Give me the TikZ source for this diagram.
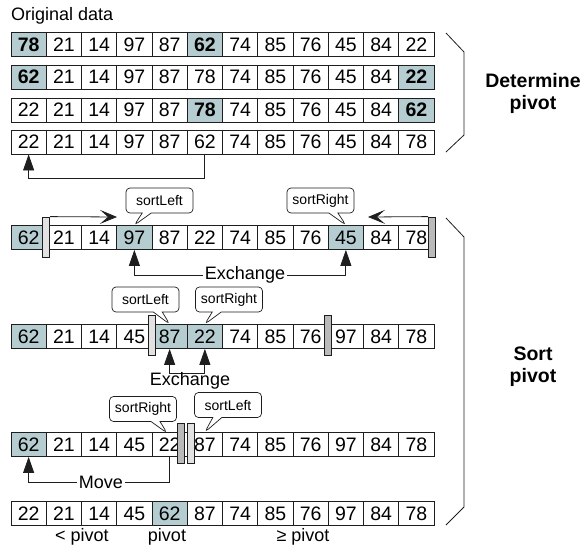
\documentclass[tikz,border=0pt]{standalone}
\usepackage{fontspec}
\setmainfont{Liberation Sans}
\usetikzlibrary{shapes.callouts,arrows.meta}
\definecolor{sh}{RGB}{181,205,208}
\definecolor{barL}{RGB}{226,226,226}
\definecolor{barD}{RGB}{186,186,186}
\definecolor{ln}{RGB}{30,30,30}
\newcommand\cellrow[3]{\foreach \v/\c [count=\i] in {#3} \node[cell,fill=\c] (#1c\i) at ({11+(\i-0.5)*35.25},#2) {\v};}
\begin{document}
\begin{tikzpicture}[x=1pt,y=-1pt,
  cell/.style={draw=ln,minimum width=35.25pt,minimum height=24pt,inner sep=0pt,line width=0.8pt,font=\fontsize{19.5}{20}\selectfont},
  bar/.style={draw=ln,minimum width=7pt,minimum height=40pt,inner sep=0pt,line width=0.8pt},
  callbox/.style={rectangle callout,draw=ln,fill=white,rounded corners=4pt,minimum width=67pt,minimum height=25pt,inner sep=0pt,line width=0.7pt,callout pointer width=9pt,font=\fontsize{14}{16}\selectfont},
  lbl/.style={inner sep=2pt,font=\fontsize{18}{20}\selectfont},
  big/.style={align=center,font=\fontsize{19.5}{22}\selectfont\bfseries},
  conn/.style={draw=ln,line width=0.8pt},
  tri/.style={-{Triangle[length=16pt,width=11pt]}},
  stl/.style={-{Stealth[length=17pt,width=14pt,inset=8pt]}}
]
\useasboundingbox (0,0) rectangle (587,547);
\node[lbl,anchor=west] (orig) at (9,16) {Original data};
\cellrow{r1}{44.5}{\textbf{78}/sh,21/white,14/white,97/white,87/white,\textbf{62}/sh,74/white,85/white,76/white,45/white,84/white,22/white}
\cellrow{r2}{77}{\textbf{62}/sh,21/white,14/white,97/white,87/white,78/white,74/white,85/white,76/white,45/white,84/white,\textbf{22}/sh}
\cellrow{r3}{110}{22/white,21/white,14/white,97/white,87/white,\textbf{78}/sh,74/white,85/white,76/white,45/white,84/white,\textbf{62}/sh}
\cellrow{r4}{142}{22/white,21/white,14/white,97/white,87/white,62/white,74/white,85/white,76/white,45/white,84/white,78/white}
\cellrow{r5}{237.5}{62/sh,21/white,14/white,97/sh,87/white,22/white,74/white,85/white,76/white,45/sh,84/white,78/white}
\cellrow{r6}{336.5}{62/sh,21/white,14/white,45/white,87/sh,22/sh,74/white,85/white,76/white,97/white,84/white,78/white}
\cellrow{r7}{444.5}{62/sh,21/white,14/white,45/white,22/white,87/white,74/white,85/white,76/white,97/white,84/white,78/white}
\cellrow{r8}{513.5}{22/white,21/white,14/white,45/white,62/sh,87/white,74/white,85/white,76/white,97/white,84/white,78/white}
% determine pivot brace
\draw[conn] (446,33) -- (464,52) -- (464,135) -- (446,152);
\node[big] (det) at (533,93) {Determine\\pivot};
\draw[conn,tri] (r4c6.south) -- ++(0,24) -| (r4c1.south);
% row 5
\node[bar,fill=barL] (b5l) at (46.25,237) {};
\node[bar,fill=barD] (b5r) at (432,237) {};
\coordinate (t5l) at (117,217);
\coordinate (t5r) at (368,217);
\draw[conn,stl] (b5l.north east) -- (t5l);
\draw[conn,stl] (b5r.north west) -- (t5r);
\node[callbox,callout absolute pointer={(r5c4.north)}] (sl5) at (159.5,200.5) {sortLeft};
\node[callbox,callout absolute pointer={(r5c10.north)}] (sr5) at (320.5,200.5) {sortRight};
\node[lbl] (ex5) at (245,275) {Exchange};
\draw[conn,tri] (ex5.west) -| (r5c4.south);
\draw[conn,tri] (ex5.east) -| (r5c10.south);
% row 6
\node[bar,fill=barL] (b6l) at (152,335.5) {};
\node[bar,fill=barD] (b6r) at (327.5,335.5) {};
\node[callbox,callout absolute pointer={(r6c5.north)}] (sl6) at (145.5,299.5) {sortLeft};
\node[callbox,callout absolute pointer={(r6c6.north)}] (sr6) at (229,299.5) {sortRight};
\draw[conn,{Triangle[length=16pt,width=11pt]}-{Triangle[length=16pt,width=11pt]}] (r6c5.south) -- ++(0,24) -| (r6c6.south);
\node[lbl] (ex6) at (190,381) {Exchange};
% row 7
\node[bar,fill=barD] (b7r) at (181,443) {};
\node[bar,fill=barL] (b7l) at (190.5,443) {};
\node[callbox,callout absolute pointer={(167,433)}] (sr7) at (143,409) {sortRight};
\node[callbox,callout absolute pointer={(r7c6.north)}] (sl7) at (228,405) {sortLeft};
\node[lbl] (mv) at (101,482) {Move};
\draw[conn] (r7c5.south) |- (mv.east);
\draw[conn,tri] (mv.west) -| (r7c1.south);
% row 8 labels
\node[lbl] (lt) at (82,537) {< pivot};
\node[lbl] (pv) at (167,537) {pivot};
\node[lbl] (ge) at (303,537) {≥ pivot};
% sort pivot brace
\draw[conn] (446,218) -- (464,237) -- (464,507) -- (446,525);
\node[big] (srt) at (533,367) {Sort\\pivot};
\end{tikzpicture}
\end{document}
